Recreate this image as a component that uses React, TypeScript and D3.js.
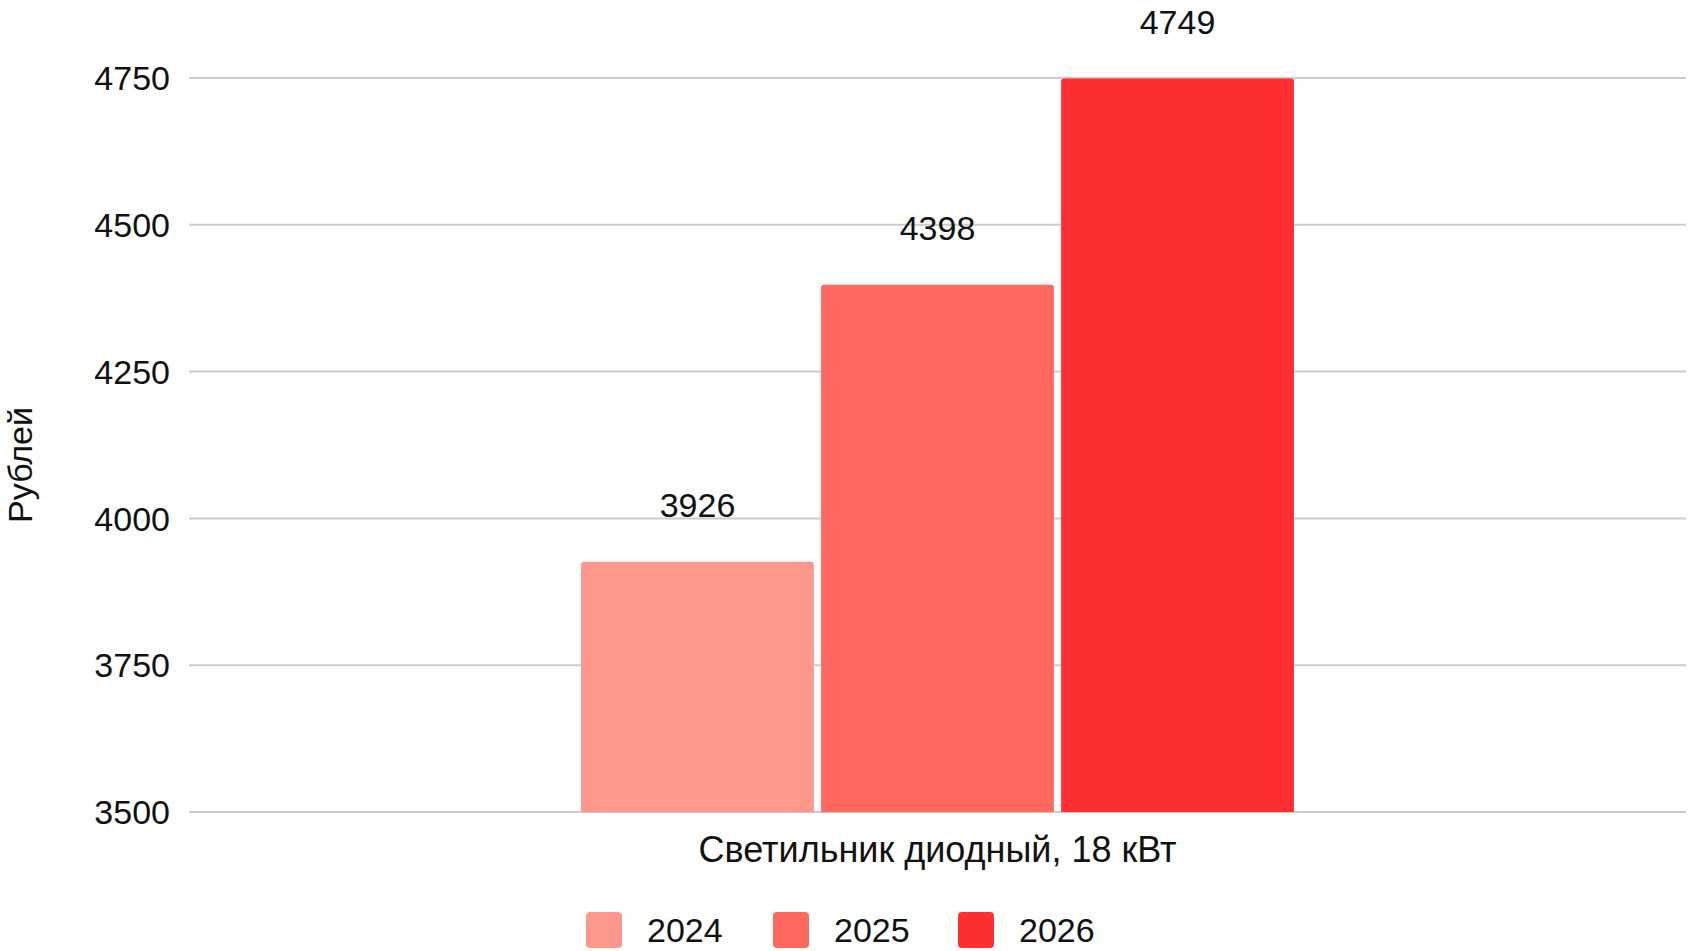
import * as d3 from "d3";
import React, { useEffect } from "react";

const category = "Светильник диодный, 18 кВт";
const years = ["2024", "2025", "2026"];
const prices = [3926, 4398, 4749];
const yTicks = [3500, 3750, 4000, 4250, 4500, 4750];
const colors = ["#fe988d", "#fe685e", "#fe2f33"];
const yTitle = "Рублей";

const App: React.FC = () => {
  useEffect(() => {
    document.body.style.margin = "0";
  }, []);

  const W = 1690,
    H = 951;
  const margin = { top: 78, right: 4, bottom: 139, left: 189 };
  const plotW = W - margin.left - margin.right;
  const plotH = H - margin.top - margin.bottom;

  const x0 = d3.scaleBand().domain([category]).range([0, plotW]).paddingOuter(0.55).paddingInner(0);
  const x1 = d3.scaleBand().domain(years).range([0, x0.bandwidth()]).paddingInner(0.03);
  const y = d3.scaleLinear().domain([3500, 4750]).range([plotH, 0]);

  const font = "'Liberation Sans', Arial, sans-serif";

  // bar with rounded top corners
  const barPath = (x: number, y0: number, w: number, h: number, r: number) =>
    `M${x},${y0 + h}V${y0 + r}Q${x},${y0} ${x + r},${y0}H${x + w - r}Q${x + w},${y0} ${x + w},${y0 + r}V${y0 + h}Z`;

  const legendX = [586, 773, 958];

  return (
    <svg width={W} height={H} style={{ display: "block" }} fontFamily={font}>
      <rect width={W} height={H} fill="#fff" />
      <g transform={`translate(${margin.left},${margin.top})`}>
        {yTicks.map((t) => (
          <g key={t}>
            <line x1={0} x2={plotW} y1={y(t)} y2={y(t)} stroke="#cccccc" strokeWidth={2} />
            <text x={-19} y={y(t)} dy="0.36em" textAnchor="end" fontSize={34} fill="#111">
              {t}
            </text>
          </g>
        ))}
        <g transform={`translate(${x0(category)},0)`}>
          {years.map((yr, i) => {
            const bx = x1(yr) as number;
            const by = y(prices[i]);
            return (
              <g key={yr}>
                <path d={barPath(bx, by, x1.bandwidth(), plotH - by, 3)} fill={colors[i]} />
                <text
                  x={bx + x1.bandwidth() / 2}
                  y={by - 45}
                  textAnchor="middle"
                  fontSize={34}
                  fill="#111"
                >
                  {prices[i]}
                </text>
              </g>
            );
          })}
        </g>
        <text
          x={(x0(category) as number) + x0.bandwidth() / 2}
          y={plotH + 50}
          textAnchor="middle"
          fontSize={36}
          fill="#111"
        >
          {category}
        </text>
      </g>
      <text
        transform={`translate(32,465) rotate(-90)`}
        textAnchor="middle"
        fontSize={34}
        fill="#111"
      >
        {yTitle}
      </text>
      {years.map((yr, i) => (
        <g key={yr} transform={`translate(${legendX[i]},912)`}>
          <rect width={36} height={36} rx={4} fill={colors[i]} />
          <text x={61} y={18} dy="0.36em" fontSize={34} fill="#111">
            {yr}
          </text>
        </g>
      ))}
    </svg>
  );
};

export default App;
